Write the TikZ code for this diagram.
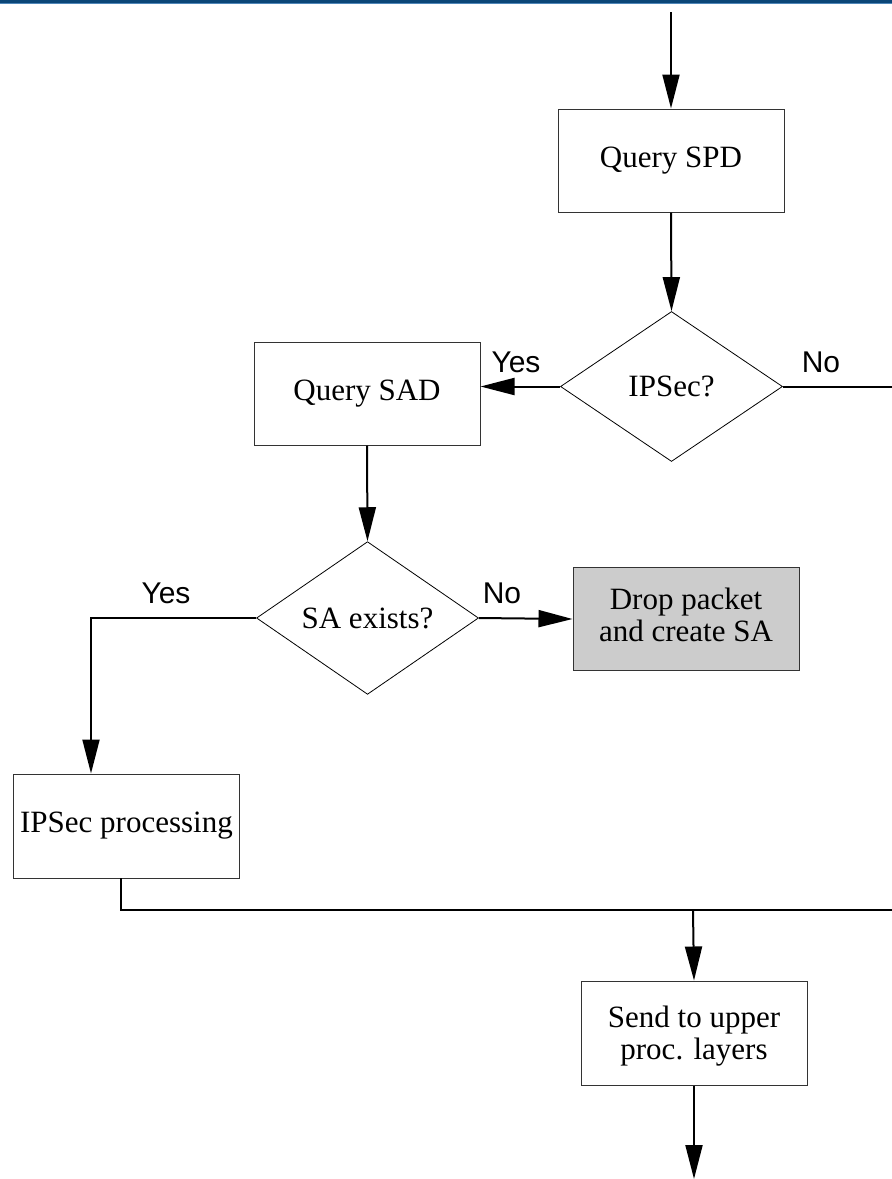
\documentclass[tikz,border=0pt]{standalone}
\usepackage{fontspec}
\setmainfont{Liberation Serif}
\newfontfamily\labelfont{Liberation Sans}
\usetikzlibrary{arrows.meta,shapes.geometric}
\definecolor{bardark}{HTML}{0B4677}
\definecolor{barlight}{HTML}{4F86B8}
\definecolor{dropgray}{HTML}{CCCCCC}
\definecolor{edgegray}{HTML}{333333}
\tikzset{
  stepbox/.style={draw=edgegray, line width=1pt, rectangle, minimum width=226pt, minimum height=103pt, inner sep=0pt, align=center, font=\fontsize{31}{32}\selectfont},
  decision/.style={draw=black, line width=0.8pt, diamond, minimum width=222pt, minimum height=150pt, inner sep=0pt, font=\fontsize{31}{32}\selectfont},
  flow/.style={line width=2pt, draw=black},
  flowarrow/.style={flow, -{Triangle[length=34pt,width=17pt]}},
  answer/.style={anchor=base, inner sep=0pt, font=\labelfont\fontsize{30}{32}\selectfont}
}
\begin{document}
\begin{tikzpicture}[x=1pt,y=-1pt]
\useasboundingbox (0,0) rectangle (892,1179);
\fill[bardark] (0,0) rectangle (892,3.2);
\fill[barlight] (0,3.2) rectangle (892,4.4);

\node[stepbox] (spd) at (671,160.5) {Query SPD};
\node[decision] (ipsec) at (671.5,386.5) {IPSec?};
\node[stepbox] (sad) at (367,393.5) {Query SAD};
\node[decision] (sa) at (367.5,618) {SA exists?};
\node[stepbox, fill=dropgray, text depth=9pt] (drop) at (686,619) {Drop packet\\and create SA};
\node[stepbox, minimum height=104pt] (proc) at (126.5,826) {IPSec processing};
\node[stepbox, minimum height=104pt, text depth=0pt] (send) at (694,1033) {Send to upper\\proc. layers};

\coordinate (start) at (671,12);
\coordinate (noend) at (892,386.5);
\coordinate (yesbend) at (91,618);
\coordinate (procout) at (121,878);
\coordinate (mergeleft) at (121,910);
\coordinate (mergeright) at (892,910);
\coordinate (mergedown) at (693,910);
\coordinate (finish) at (694,1179);

\draw[flowarrow] (start) -- (spd.north);
\draw[flowarrow] (spd.south) -- (ipsec.north);
\draw[flowarrow] (ipsec.west) -- (sad.east |- ipsec.west);
\draw[flow] (ipsec.east) -- (noend);
\draw[flowarrow] (sad.south) -- (sa.north);
\draw[flowarrow] (sa.east) -- (drop.west);
\draw[flowarrow] (sa.west) -- (yesbend) -- (yesbend |- proc.north);
\draw[flow] (procout) -- (mergeleft) -- (mergeright);
\draw[flowarrow] (mergedown) -- (send.north);
\draw[flowarrow] (send.south) -- (finish);

\node[answer] (yes1) at (516,372) {Yes};
\node[answer] (no1) at (821,372) {No};
\node[answer] (yes2) at (166,603) {Yes};
\node[answer] (no2) at (502,603) {No};
\end{tikzpicture}
\end{document}
